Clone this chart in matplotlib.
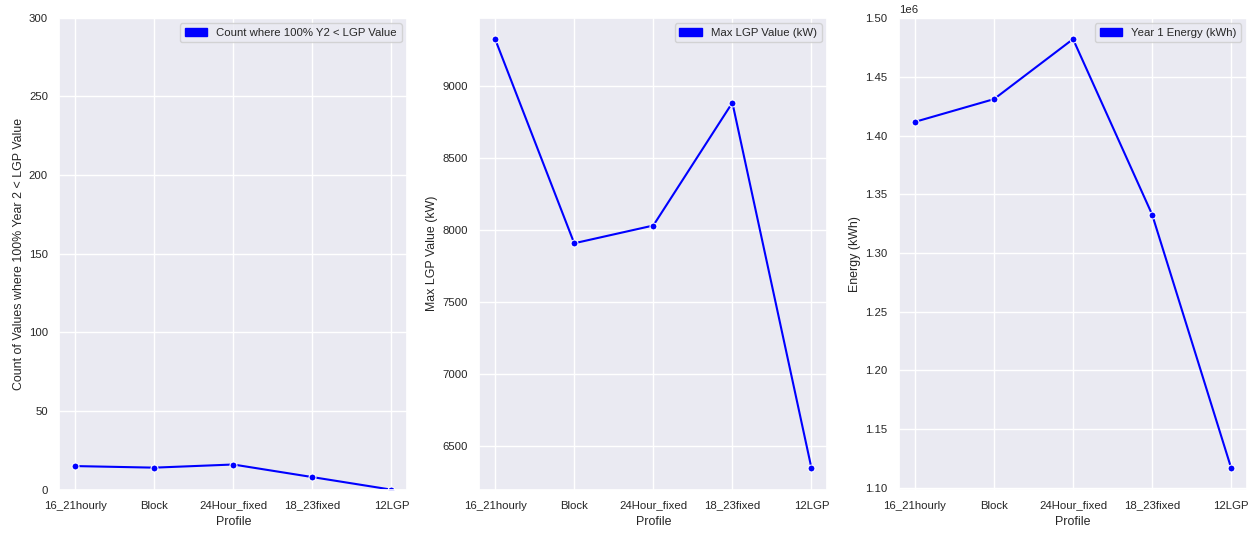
import matplotlib
matplotlib.use("Agg")
import matplotlib.pyplot as plt
import matplotlib.patches as mpatches
import seaborn as sns

# data
profiles = ["16_21hourly", "Block", "24Hour_fixed", "18_23fixed", "12LGP"]
count_y2_below = [15, 14, 16, 8, 0]
max_lgp_kw = [9324, 7908, 8031, 8883, 6348]
year1_energy_kwh = [1411800, 1431200, 1482400, 1332800, 1116500]

sns.set_theme(style="darkgrid", font_scale=0.745)
plt.rcParams["font.family"] = ["Liberation Sans", "DejaVu Sans"]
plt.rcParams["xtick.major.pad"] = 1.8
plt.rcParams["ytick.major.pad"] = 2.2

fig = plt.figure(figsize=(12.59, 5.34), dpi=100)

w, h, b = 0.2764, 0.884, 0.083
lefts = [0.0471, 0.3807, 0.7141]
axes = [fig.add_axes([l, b, w, h]) for l in lefts]

panels = [
    (count_y2_below, "Count where 100% Y2 < LGP Value", "Count of Values where 100% Year 2 < LGP Value"),
    (max_lgp_kw, "Max LGP Value (kW)", "Max LGP Value (kW)"),
    (year1_energy_kwh, "Year 1 Energy (kWh)", "Energy (kWh)"),
]

for ax, (vals, leg, ylab) in zip(axes, panels):
    sns.lineplot(x=profiles, y=vals, marker="o", color="blue", ax=ax,
                 linewidth=1.5, markersize=5)
    ax.set_xlabel("Profile", labelpad=4)
    ax.set_ylabel(ylab, labelpad=3)
    handle = mpatches.Patch(color="blue", label=leg)
    ax.legend(handles=[handle], loc="upper right")

axes[0].set_ylim(0, 300)

fig.savefig("out.png", dpi=100)
